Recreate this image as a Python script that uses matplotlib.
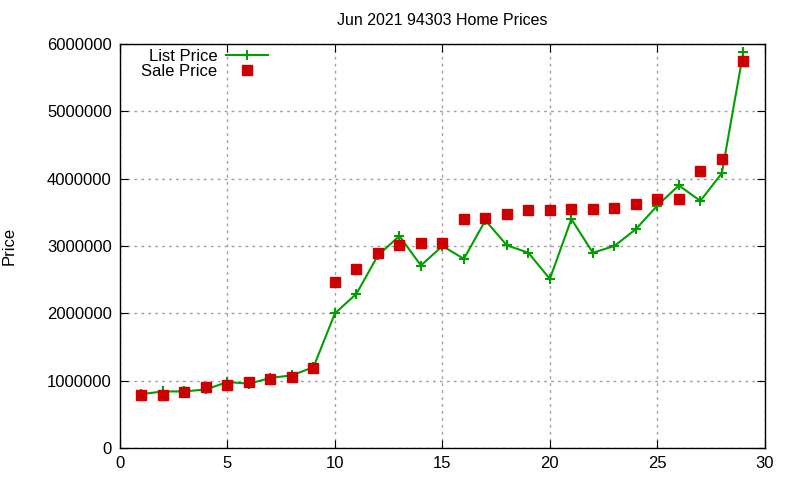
import matplotlib
matplotlib.use("Agg")
import matplotlib.pyplot as plt

# home index, list price and sale price
homes = list(range(1, 30))
list_price = [800000, 840000, 840000, 870000, 980000, 955000, 1040000, 1080000, 1200000,
              2000000, 2290000, 2860000, 3150000, 2710000, 3000000, 2810000, 3380000, 3010000,
              2900000, 2510000, 3400000, 2900000, 3000000, 3250000, 3600000, 3900000, 3670000,
              4080000, 5880000]
sale_price = [790000, 790000, 830000, 910000, 940000, 980000, 1020000, 1060000, 1190000,
              2470000, 2660000, 2900000, 3010000, 3050000, 3050000, 3400000, 3420000, 3480000,
              3540000, 3540000, 3550000, 3550000, 3570000, 3620000, 3700000, 3700000, 4110000,
              4290000, 5750000]

plt.rcParams['font.family'] = ['Liberation Sans', 'DejaVu Sans']

fig = plt.figure(figsize=(8, 4.8), dpi=100)
ax = fig.add_axes([0.15, 0.0667, 0.806, 0.8416])

ax.plot(homes, list_price, color='#00a000', lw=1.5, marker='+', ms=7, mew=1.5,
        label='List Price')
ax.plot(homes, sale_price, ls='none', color='#cc0000', marker='s', ms=6.5,
        label='Sale Price')

ax.set_xlim(0, 30)
ax.set_ylim(0, 6000000)
ax.set_xticks(range(0, 31, 5))
ax.set_yticks(range(0, 6000001, 1000000))
ax.ticklabel_format(style='plain', axis='y')
ax.tick_params(direction='in', top=True, right=True, labelsize=12, length=6, pad=6)
ax.grid(True, color='#a0a0a0', ls=(0, (2, 3)), lw=1)
for s in ax.spines.values():
    s.set_linewidth(1)

ax.set_title('Jun 2021 94303 Home Prices', fontsize=11.5, pad=14)
ax.set_ylabel('Price', fontsize=12, labelpad=22)

ax.legend(loc='upper left', bbox_to_anchor=(0.01, 1.025), frameon=False, markerfirst=False,
          fontsize=12, handlelength=2.5, labelspacing=0.0, handletextpad=0.5)

fig.savefig('out.png', dpi=100)
